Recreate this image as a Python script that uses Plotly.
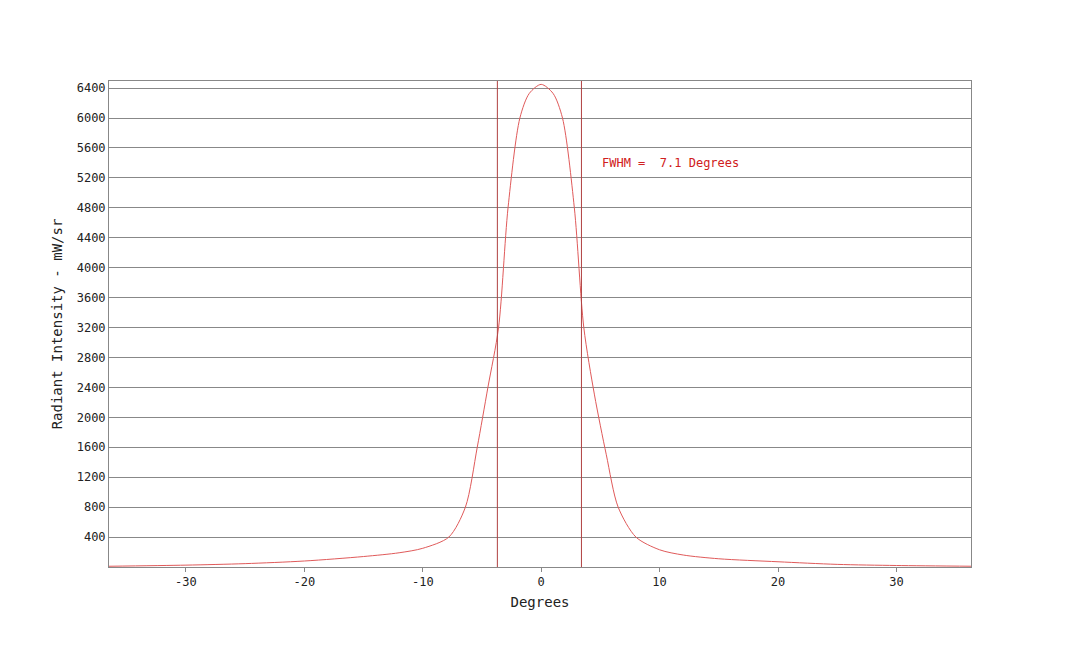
import plotly.graph_objs as go

degrees = [-36.5, -30, -25, -20, -15, -12, -10, -7.8, -6.4, -5.4, -4.5, -3.6, -2.8, -1.8, -1, 0,
           1, 1.8, 2.8, 3.6, 4.5, 5.5, 6.5, 8, 10, 12, 15, 20, 25, 30, 36.5]
intensity = [10, 25, 45, 80, 140, 190, 250, 400, 800, 1600, 2400, 3200, 4800, 6000, 6330, 6450,
             6330, 6000, 4800, 3200, 2300, 1500, 800, 400, 230, 160, 110, 70, 35, 20, 10]
fwhm_left = -3.7
fwhm_right = 3.4
yticks = list(range(400, 6401, 400))
xticks = [-30, -20, -10, 0, 10, 20, 30]

red = '#e05a5a'
font = dict(family='DejaVu Sans Mono', size=12, color='#222')

fig = go.Figure(go.Scatter(
    x=degrees, y=intensity, mode='lines', line_shape='spline',
    line=dict(color=red, width=1, smoothing=0.8), showlegend=False
))

for xv in [fwhm_left, fwhm_right]:
    fig.add_vline(x=xv, line_color='#b04040', line_width=1)

fig.add_annotation(x=5.0, y=5400, text='FWHM =  7.1 Degrees', showarrow=False,
                   xanchor='left', font=dict(family='DejaVu Sans Mono', size=12, color='#d02020'))

fig.update_layout(
    width=1080, height=646,
    margin=dict(l=101, r=117, t=73, b=87),
    plot_bgcolor='white', paper_bgcolor='white', font=font,
    xaxis=dict(range=[-36.5, 36.3], tickvals=xticks, ticktext=['-30', '-20', '-10', '0', '10', '20', '30'],
               showgrid=False, zeroline=False, showline=True, linecolor='#888', mirror=True,
               ticks='outside', ticklen=4, tickcolor='#888', automargin=False,
               title=dict(text='Degrees', standoff=8)),
    yaxis=dict(range=[0, 6495], tickvals=yticks, gridcolor='#888', gridwidth=1,
               zeroline=False, showline=True, linecolor='#888', mirror=True, automargin=False,
               ticks='', title=dict(text='Radiant Intensity - mW/sr', standoff=10)),
)

fig.write_html("out.html")
